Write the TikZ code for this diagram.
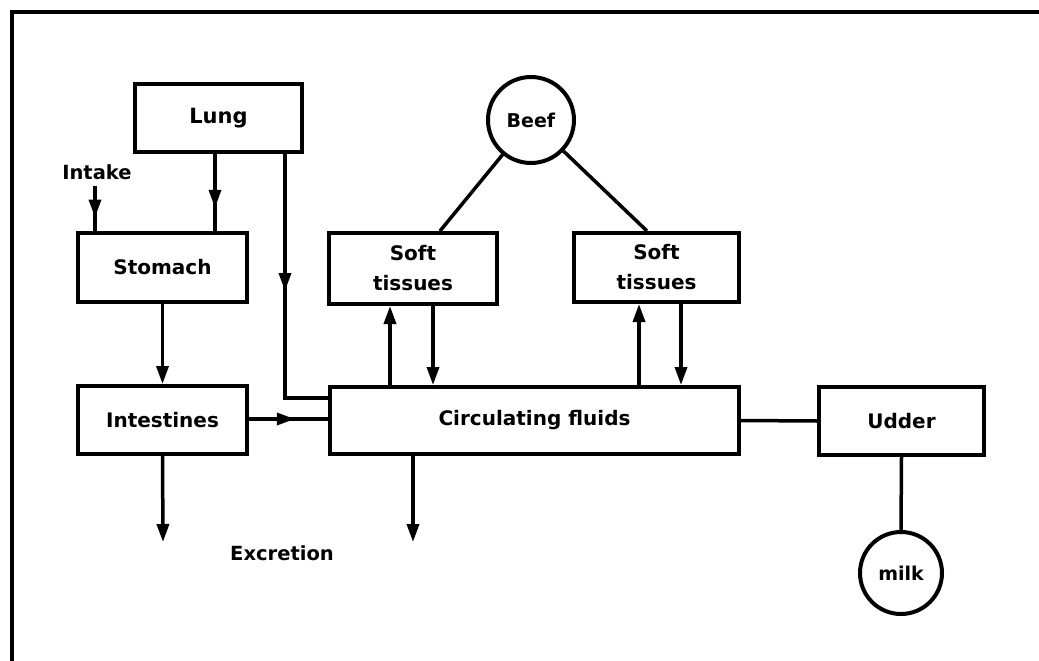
\documentclass[tikz,border=0pt]{standalone}
\usepackage{fontspec}
\setmainfont{DejaVu Sans}
\usetikzlibrary{arrows.meta,decorations.markings}
\tikzset{
  box/.style={draw, line width=4pt, rectangle, inner sep=0pt, align=center,
    font=\fontsize{20}{30}\selectfont\bfseries},
  circ/.style={draw, line width=4pt, circle, inner sep=0pt,
    font=\fontsize{19}{22}\selectfont\bfseries},
  lbl/.style={inner sep=0pt, font=\fontsize{19.5}{22}\selectfont\bfseries},
  conn/.style={line width=3.5pt},
  tip/.style={-{Triangle[width=12pt,length=18pt]}},
  midtip/.style={postaction={decorate}, decoration={markings,
    mark=at position #1 with {\arrow{Triangle[width=12pt,length=18pt]}}}}
}
\begin{document}
\begin{tikzpicture}[x=1pt,y=-1pt]
\useasboundingbox (0,0) rectangle (1039,661);
% frame (left and top)
\draw[line width=4.5pt] (12,661) -- (12,12) -- (1039,12);

% nodes
\node[box, minimum width=167pt, minimum height=68pt, font=\fontsize{21}{30}\selectfont\bfseries] (lung) at (218.5,118) {Lung};
\node[box, minimum width=169pt, minimum height=69pt] (stom) at (162.5,267.5) {Stomach};
\node[box, minimum width=169pt, minimum height=68pt] (intes) at (162.5,420) {Intestines};
\node[box, minimum width=168pt, minimum height=71pt] (soft1) at (413,268.5) {Soft\\tissues};
\node[box, minimum width=165pt, minimum height=69pt] (soft2) at (656.5,267.5) {Soft\\tissues};
\node[box, minimum width=409pt, minimum height=67pt] (cf) at (534.5,420.5) {Circulating fluids};
\node[box, minimum width=165pt, minimum height=68pt] (udder) at (901.5,421) {Udder};
\node[circ, minimum size=86pt] (beef) at (531,120) {Beef};
\node[circ, minimum size=82pt] (milk) at (901,573) {milk};
\node[lbl] (intake) at (97,172) {Intake};
\node[lbl] (excr) at (282,553) {Excretion};

% free ends
\coordinate (ina) at (95,186);
\coordinate (lc) at (285,398);
\coordinate (ex1) at (163,542);
\coordinate (ex2) at (413,542);
\coordinate (b1) at (440,0);
\coordinate (b2) at (647,0);

% connectors
\draw[conn, midtip=0.7] (ina) -- (stom.north -| ina);
\draw[conn, midtip=0.7] (lung.south -| 215,0) -- (stom.north -| 215,0);
\draw[conn, midtip=137pt] (lung.south -| lc) -- (lc) -- (lc -| cf.west);
\draw[conn, tip] (stom.south) -- (intes.north);
\draw[conn, midtip=0.58] (intes.east |- 0,419) -- (cf.west |- 0,419);
\draw[conn, tip] (cf.north -| 390,0) -- (soft1.south -| 390,0);
\draw[conn, tip] (soft1.south -| 433,0) -- (cf.north -| 433,0);
\draw[conn, tip] (cf.north -| 639,0) -- (soft2.south -| 639,0);
\draw[conn, tip] (soft2.south -| 681,0) -- (cf.north -| 681,0);
\draw[conn] (beef) -- (soft1.north -| b1);
\draw[conn] (beef) -- (soft2.north -| b2);
\draw[conn] (cf.east) -- (udder.west);
\draw[conn] (udder.south) -- (milk.north);
\draw[conn, tip] (intes.south) -- (ex1);
\draw[conn, tip] (cf.south -| ex2) -- (ex2);
\end{tikzpicture}
\end{document}
